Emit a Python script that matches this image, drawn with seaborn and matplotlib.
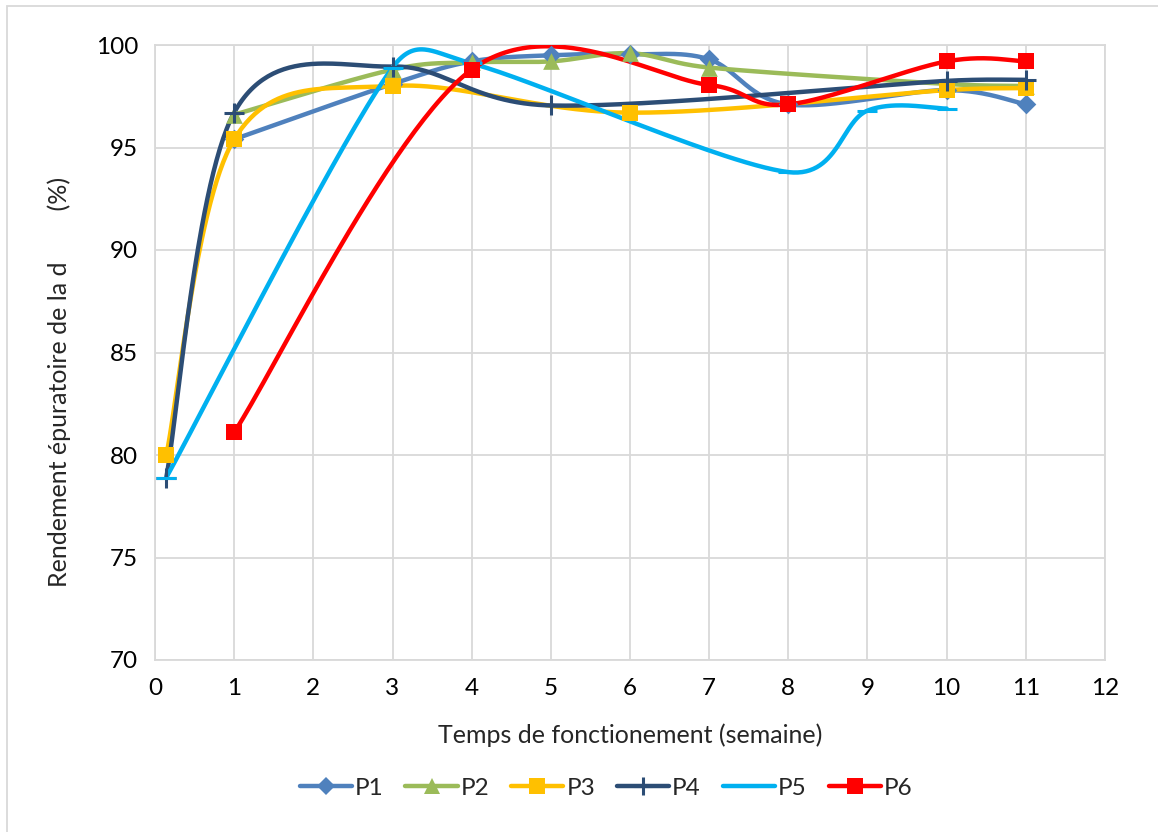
import numpy as np
import pandas as pd
import matplotlib
matplotlib.use("Agg")
import matplotlib.pyplot as plt
from matplotlib.lines import Line2D
import seaborn as sns

# Weekly purification yield of the six pilots (x in weeks; first reading after one day)
DAY = 1 / 7
p1_x = [1, 3, 4, 5, 6, 7, 8, 10, 11]
p1_y = [95.4, 98.1, 99.2, 99.5, 99.55, 99.3, 97.1, 97.8, 97.1]
p2_x = [1, 3, 4, 5, 6, 7, 10, 11]
p2_y = [96.6, 98.8, 99.15, 99.2, 99.6, 98.9, 98.1, 98.0]
p3_x = [DAY, 1, 3, 6, 10, 11]
p3_y = [80.0, 95.4, 98.0, 96.7, 97.8, 97.9]
p4_x = [DAY, 1, 3, 5, 10, 11]
p4_y = [78.9, 96.7, 98.95, 97.05, 98.25, 98.3]
p5_x = [DAY, 3, 4, 8, 9, 10]
p5_y = [78.9, 98.9, 99.1, 93.8, 96.8, 96.9]
p6_x = [1, 4, 7, 8, 10, 11]
p6_y = [81.1, 98.8, 98.05, 97.1, 99.2, 99.2]

names = ["P1", "P2", "P3", "P4", "P5", "P6"]
series_x = [p1_x, p2_x, p3_x, p4_x, p5_x, p6_x]
series_y = [p1_y, p2_y, p3_y, p4_y, p5_y, p6_y]

colors = ["#4F81BD", "#9BBB59", "#FFC000", "#2C4D75", "#00B0F0", "#FF0000"]
markers = ["D", "^", "s", "+", "_", "s"]
msizes = [10, 12, 12, 14, 14, 12]

x_ticks = list(range(0, 13))
y_ticks = [70, 75, 80, 85, 90, 95, 100]

sns.set_theme(style="white")
plt.rcParams["font.family"] = ["Lato", "DejaVu Sans"]

W, H = 1158, 832
fig = plt.figure(figsize=(W / 100, H / 100), dpi=100)
ax = fig.add_axes([155 / W, 1 - 660 / H, (1105 - 155) / W, (660 - 45) / H])
ax.set_xlim(0, 12)
ax.set_ylim(70, 100)


def smooth_curve(ax, xs, ys, steps=60):
    """Bezier smoothing in display space with Catmull-Rom style handles."""
    pts = ax.transData.transform(np.column_stack([xs, ys]))
    n = len(pts)
    parts = [pts[:1]]
    t = np.linspace(0, 1, steps)[1:, None]
    for i in range(n - 1):
        a = pts[i - 1] if i > 0 else pts[i]
        b, c = pts[i], pts[i + 1]
        d = pts[i + 2] if i + 2 < n else pts[i + 1]
        seg = np.linalg.norm(c - b)
        h1 = (c - a) / 6
        h2 = (d - b) / 6
        for h in (h1, h2):
            ln = np.linalg.norm(h)
            if ln > seg / 2 and ln > 0:
                h *= (seg / 2) / ln
        c1 = b + h1
        c2 = c - h2
        seg_pts = ((1 - t) ** 3) * b + 3 * ((1 - t) ** 2) * t * c1 \
            + 3 * (1 - t) * t ** 2 * c2 + t ** 3 * c
        parts.append(seg_pts)
    curve = np.vstack(parts)
    return ax.transData.inverted().transform(curve)


for name, xs, ys, col, mk, ms in zip(names, series_x, series_y, colors, markers, msizes):
    cv = smooth_curve(ax, xs, ys)
    df_line = pd.DataFrame({"x": cv[:, 0], "y": cv[:, 1]})
    sns.lineplot(data=df_line, x="x", y="y", sort=False, estimator=None,
                 color=col, linewidth=3.2, ax=ax, solid_capstyle="round", zorder=3)
    df_pts = pd.DataFrame({"x": xs, "y": ys})
    if mk in ("+", "_"):
        sns.scatterplot(data=df_pts, x="x", y="y", marker=mk, s=ms ** 2,
                        color=col, linewidth=2.2, ax=ax, zorder=4)
    else:
        sns.scatterplot(data=df_pts, x="x", y="y", marker=mk, s=ms ** 2,
                        color=col, edgecolor=col, linewidth=0, ax=ax, zorder=4)

grid_col = "#D9D9D9"
ax.set_xticks(x_ticks)
ax.set_yticks(y_ticks)
ax.grid(True, color=grid_col, linewidth=1.3)
ax.set_axisbelow(True)
for sp in ax.spines.values():
    sp.set_color(grid_col)
    sp.set_linewidth(1.3)
ax.tick_params(axis="both", length=0, labelsize=17.5, colors="black")
ax.tick_params(axis="x", pad=13)
ax.tick_params(axis="y", pad=12)

ax.set_xlabel("Temps de fonctionement (semaine)", fontsize=18)
ax.xaxis.set_label_coords(0.5, -0.103)
ax.set_ylabel("Rendement épuratoire de la d        (%)", fontsize=18)
ax.yaxis.set_label_coords(-0.088, 0.452)

handles = [Line2D([0], [0], color=c, lw=3.2, marker=m, markersize=s * 0.95,
                  markeredgewidth=(2.2 if m in ("+", "_") else 0), solid_capstyle="round")
           for c, m, s in zip(colors, markers, msizes)]
fig.legend(handles, names, loc="center", bbox_to_anchor=(606 / W, 1 - 788 / H),
           ncol=6, frameon=False, fontsize=17.5, handlelength=2.15, handletextpad=0.12,
           columnspacing=0.9)

# chart area outline
fig.patches.append(plt.Rectangle((7 / W, -0.01), 1.0, 1 - 6 / H + 0.01, transform=fig.transFigure,
                                 fill=False, edgecolor=grid_col, linewidth=1.3))

fig.savefig("out.png", dpi=100, facecolor="white")
